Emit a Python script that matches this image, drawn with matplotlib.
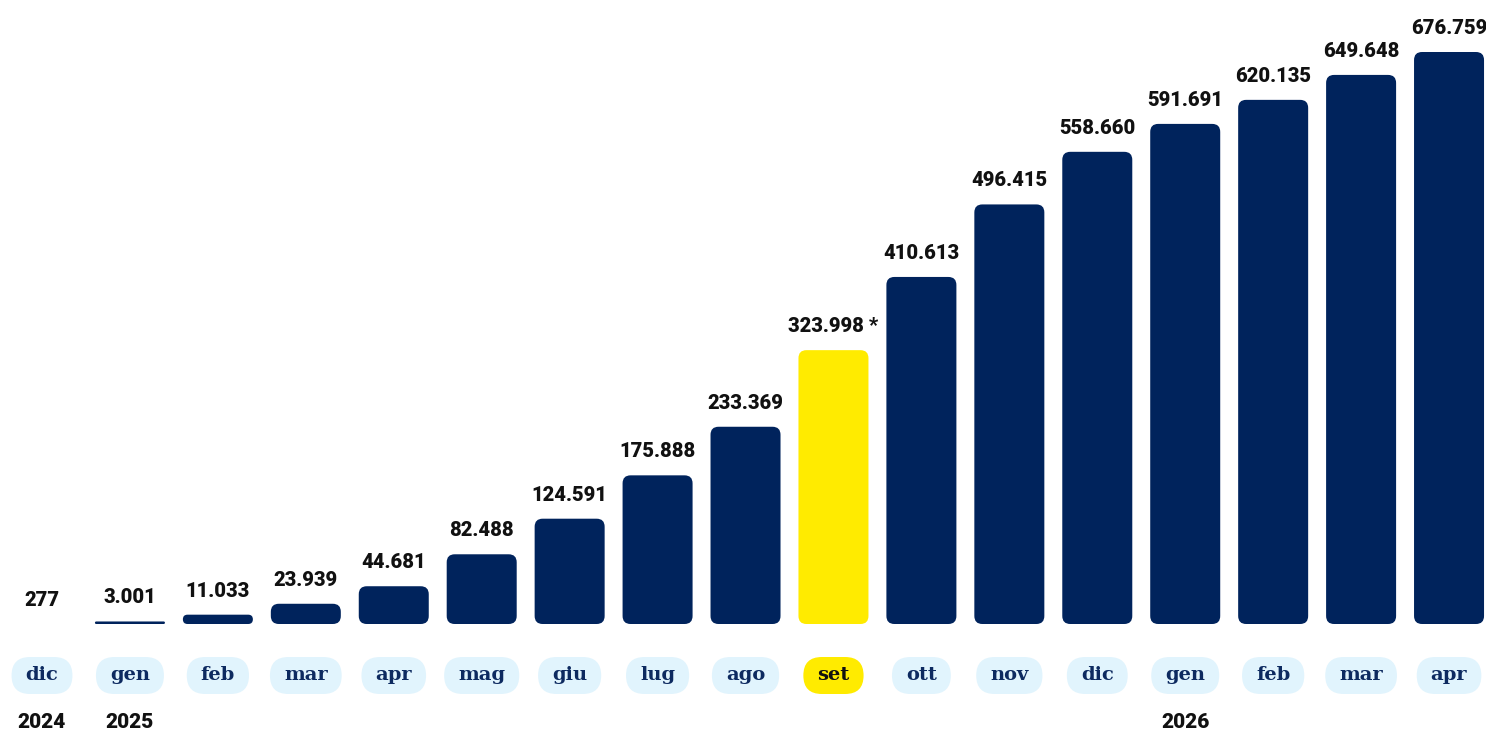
import numpy as np
import matplotlib
matplotlib.use('Agg')
from matplotlib import pyplot as plt
from matplotlib.patches import FancyBboxPatch
from matplotlib.transforms import IdentityTransform, blended_transform_factory

# data
months = ['dic', 'gen', 'feb', 'mar', 'apr', 'mag', 'giu', 'lug', 'ago',
          'set', 'ott', 'nov', 'dic', 'gen', 'feb', 'mar', 'apr']
values = [277, 3001, 11033, 23939, 44681, 82488, 124591, 175888, 233369,
          323998, 410613, 496415, 558660, 591691, 620135, 649648, 676759]
year_pos = [0, 1, 13]
year_labels = ['2024', '2025', '2026']
highlight = 9  # 'set' bar, marked with an asterisk

NAVY = '#00235c'
YELLOW = '#ffeb00'
PILL = '#e1f4fd'
PILL_TEXT = '#0d2a60'

W, H = 1486, 733
fig = plt.figure(figsize=(W / 100, H / 100), dpi=100)
ax = fig.add_axes([0, 0, 1, 1])
ax.axis('off')

# layout in pixels
x_step = 87.94      # px between bar centres
x0_px = 42          # centre of first bar
base_px = 109       # baseline, from bottom
top_px = 572        # height of tallest bar
px_per_val = top_px / max(values)

ax.set_xlim(-x0_px / x_step, (W - x0_px) / x_step)
ax.set_ylim(-base_px / px_per_val, (H - base_px) / px_per_val)

xu = 1 / x_step        # x data units per px
yu = 1 / px_per_val    # y data units per px
bar_w = 70 * xu

for i, v in enumerate(values):
    color = YELLOW if i == highlight else NAVY
    h_px = v * px_per_val
    r_px = min(8, h_px / 2)
    if h_px >= 1:
        patch = FancyBboxPatch((i - bar_w / 2, 0), bar_w, v,
                               boxstyle="round,pad=0,rounding_size={}".format(r_px * xu),
                               mutation_aspect=yu / xu,
                               facecolor=color, edgecolor='none')
        ax.add_patch(patch)

    label = '{:,}'.format(v).replace(',', '.')
    if i == highlight:
        label += ' *'
    ax.annotate(label, (i, v), xytext=(0, 14 * 0.72), textcoords='offset points',
                ha='center', va='bottom', fontsize=14.5, fontweight='heavy',
                family='Roboto', color='#111111')

# month pills
trans = blended_transform_factory(ax.transData, ax.transAxes)
pill_y = 57.5
month_texts = []
for i, m in enumerate(months):
    t = ax.text(i, pill_y / H, m, transform=trans, ha='center', va='center',
                fontsize=14, fontweight='bold', family='DejaVu Serif',
                color='#111111' if i == highlight else PILL_TEXT, zorder=3)
    month_texts.append(t)

fig.canvas.draw()
renderer = fig.canvas.get_renderer()
pill_h = 37
for i, t in enumerate(month_texts):
    bb = t.get_window_extent(renderer)
    cx = (bb.x0 + bb.x1) / 2
    w = bb.width + 28
    pill = FancyBboxPatch((cx - w / 2, pill_y - pill_h / 2), w, pill_h,
                          boxstyle="round,pad=0,rounding_size={}".format(pill_h / 2),
                          transform=IdentityTransform(),
                          facecolor=YELLOW if i == highlight else PILL,
                          edgecolor='none', zorder=2)
    ax.add_artist(pill)

# years
for p, y in zip(year_pos, year_labels):
    ax.text(p, 11 / H, y, transform=trans, ha='center', va='center',
            fontsize=15, fontweight='heavy', family='Roboto', color='#111111')

fig.savefig('out.png', dpi=100)
